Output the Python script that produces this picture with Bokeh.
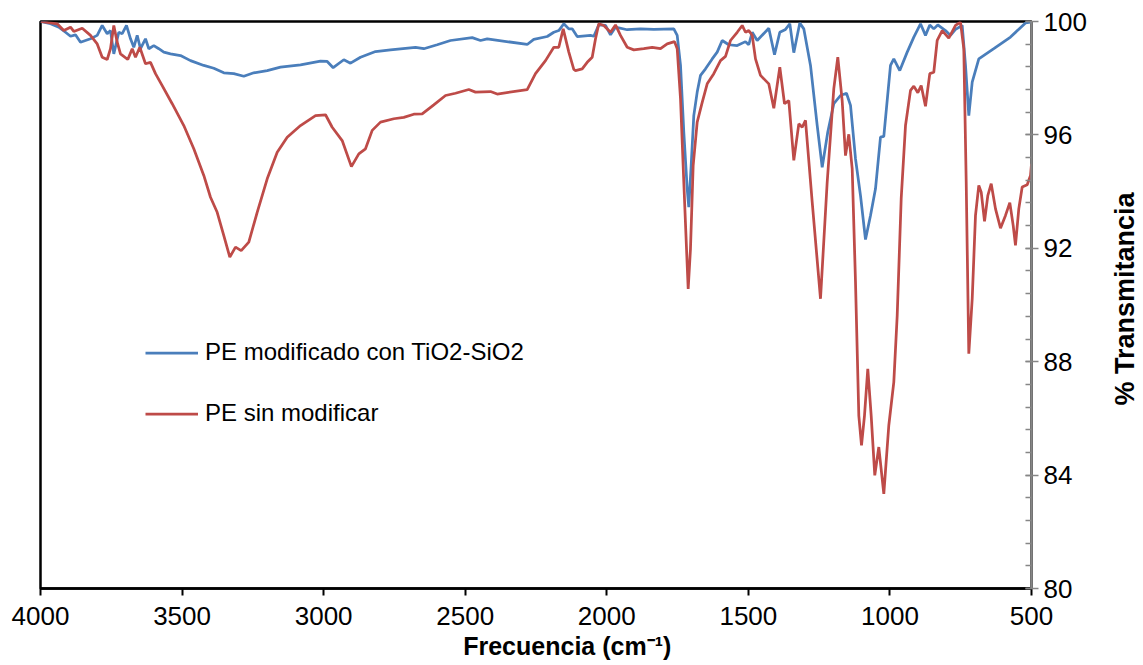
import math
from bokeh.plotting import figure
from bokeh.layouts import row
from bokeh.models import Range1d, LinearAxis, Legend, LegendItem, FixedTicker, Label
from bokeh.embed import file_html
from bokeh.resources import INLINE

# ---- data ----
wn_red = [4000, 3941, 3917.7, 3894, 3882.4, 3852.7, 3823.4, 3799.7, 3782.1, 3764.4, 3752.8, 3741.1,
          3729.1, 3717.5, 3691.7, 3676.1, 3664.5, 3649.3, 3629.2, 3611.5, 3593.9, 3570.2, 3534.9,
          3493.9, 3458.6, 3423.3, 3399.6, 3376.0, 3352.6, 3331.4, 3311.3, 3291.2, 3264.3, 3234.7,
          3199.3, 3164.0, 3128.7, 3081.7, 3028.7, 2993.4, 2969.8, 2934.5, 2902, 2875.8, 2852.2,
          2828.5, 2799.2, 2752.2, 2716.9, 2681.6, 2651.9, 2611.0, 2569.6, 2534.3, 2487.3, 2463.7,
          2410.7, 2387.0, 2281.1, 2251.8, 2216.4, 2187.1, 2169.5, 2153.9, 2134.1, 2116.5, 2110.5,
          2086.8, 2069.2, 2051.5, 2039.8, 2028.2, 2010.5, 1986.9, 1969.2, 1951.6, 1927.9, 1904.6,
          1869.3, 1839.6, 1810.3, 1786.7, 1760.8, 1751.3, 1739.6, 1728.0, 1718.4, 1712.5, 1704.4,
          1694.9, 1680.7, 1663.0, 1645.4, 1622.1, 1598.4, 1580.7, 1563.1, 1539.4, 1521.7, 1510.1,
          1498.5, 1486.4, 1474.8, 1457.1, 1427.8, 1410.1, 1388.9, 1372.3, 1357.1, 1339.5, 1321.8,
          1309.8, 1298.2, 1274.5, 1245.2, 1221.6, 1198.2, 1184.1, 1168.6, 1156.9, 1145.3, 1133.2,
          1121.6, 1109.9, 1100.4, 1089.8, 1078.2, 1066.2, 1053.5, 1039.3, 1021.6, 1004.0, 986.3,
          974.3, 960.2, 945.0, 927.3, 915.6, 901.5, 889.6, 874.4, 859.2, 845.1, 833.1, 815.4, 792.1,
          768.4, 750.8, 739.1, 730.6, 721.4, 709.4, 697.8, 686.1, 677.6, 665.9, 654.3, 642.3, 627.1,
          609.5, 591.8, 576.6, 564.6, 556.6, 544.9, 532.9, 515.2, 503.5, 500]
t_red = [100, 99.92, 99.68, 99.80, 99.65, 99.76, 99.51, 99.21, 98.74, 98.66, 99.04, 99.86,
         99.27, 98.86, 98.66, 99.04, 98.74, 99.09, 98.51, 98.56, 98.16, 97.74, 97.10,
         96.33, 95.51, 94.57, 93.80, 93.27, 92.45, 91.69, 92.04, 91.92, 92.22, 93.27,
         94.45, 95.39, 95.92, 96.33, 96.68, 96.71, 96.27, 95.80, 94.88, 95.33, 95.51,
         96.16, 96.45, 96.57, 96.62, 96.73, 96.74, 97.06, 97.39, 97.47, 97.60, 97.51,
         97.53, 97.44, 97.60, 98.16, 98.62, 99.09, 99.09, 99.74, 98.92, 98.31, 98.27,
         98.33, 98.56, 98.74, 99.39, 99.92, 99.86, 99.62, 99.88, 99.51, 99.09, 99.00,
         99.04, 99.09, 99.04, 99.21, 99.29, 99.04, 97.27, 94.33, 91.98, 90.57, 91.98,
         94.92, 96.45, 97.15, 97.80, 98.16, 98.62, 98.77, 99.33, 99.62, 99.86, 99.62,
         99.68, 99.51, 98.68, 98.10, 97.80, 96.94, 98.39, 97.10, 97.21, 95.10, 96.39,
         96.27, 96.51, 93.63, 90.22, 94.33, 97.63, 98.74, 97.20, 95.27, 96.02, 94.80,
         90.81, 86.10, 85.05, 86.10, 87.75, 86.10, 83.99, 84.99, 83.34, 85.75, 87.28,
         89.63, 93.75, 96.33, 97.57, 97.72, 97.49, 97.74, 97.01, 98.16, 98.21, 99.33, 99.68, 99.41,
         99.86, 99.98, 99.04, 94.33, 88.28, 90.22, 93.16, 94.22, 93.98, 92.95, 93.86, 94.28, 93.39,
         92.71, 93.16, 93.61, 92.80, 92.10, 93.39, 94.16, 94.24, 94.57, 94.98]

wn_blue = [4000, 3964.7, 3935.4, 3911.7, 3894.0, 3876.4, 3858.7, 3841.1, 3823.4, 3799.7, 3782.1,
           3764.4, 3752.8, 3741.1, 3723.5, 3711.4, 3696.3, 3682.1, 3670.5, 3658.5, 3646.8, 3629.2,
           3617.5, 3599.9, 3582.2, 3564.5, 3540.9, 3505.5, 3470.2, 3423.3, 3388.0, 3352.6, 3317.3,
           3282.0, 3246.7, 3199.3, 3152.4, 3081.7, 3011.1, 2987.4, 2966.3, 2928.8, 2905.1, 2869.8,
           2816.8, 2763.9, 2675.6, 2646.3, 2599.0, 2552.0, 2475.3, 2446.0, 2422.3, 2281.1, 2257.8,
           2210.4, 2187.1, 2169.5, 2151.8, 2134.1, 2122.2, 2104.5, 2057.5, 2045.8, 2028.2, 2004.5,
           1986.9, 1969.2, 1927.9, 1881.0, 1834.0, 1763.3, 1751.3, 1739.6, 1728.0, 1716.0, 1710.4,
           1702.0, 1692.7, 1680.7, 1669.0, 1651.3, 1627.7, 1610.1, 1592.4, 1569.1, 1539.4, 1510.1,
           1498.5, 1486.4, 1468.8, 1427.8, 1407.6, 1388.9, 1368.8, 1353.6, 1339.5, 1318.3, 1304.2,
           1280.5, 1256.8, 1239.2, 1219.5, 1198.2, 1174.6, 1153.4, 1139.2, 1121.6, 1103.9, 1086.3,
           1068.6, 1051.0, 1033.3, 1021.6, 998.0, 986.3, 965.2, 939.0, 915.6, 892.0, 874.4, 859.2,
           845.1, 831.0, 803.7, 786.1, 768.4, 744.8, 733.1, 721.4, 709.4, 686.1, 633.1, 574.1, 521.2,
           503.5, 500]
t_blue = [100, 99.92, 99.80, 99.62, 99.48, 99.53, 99.27, 99.33, 99.39, 99.51, 99.86,
          99.57, 99.68, 98.86, 99.62, 99.57, 99.86, 99.39, 99.09, 99.51, 99.04, 99.39,
          99.04, 99.15, 99.04, 98.92, 98.86, 98.80, 98.62, 98.45, 98.35, 98.19, 98.16,
          98.07, 98.19, 98.27, 98.39, 98.47, 98.60, 98.59, 98.37, 98.65, 98.53, 98.74,
          98.94, 99.00, 99.09, 99.04, 99.18, 99.33, 99.43, 99.33, 99.39, 99.19, 99.37,
          99.47, 99.62, 99.68, 99.92, 99.74, 99.74, 99.47, 99.51, 99.48, 99.88, 99.86,
          99.53, 99.80, 99.71, 99.74, 99.72, 99.74, 99.51, 98.45, 96.10, 94.10, 93.45,
          94.92, 96.68, 97.51, 98.10, 98.33, 98.68, 98.92, 99.33, 99.18, 99.15, 99.29,
          99.18, 99.62, 99.33, 99.76, 98.83, 99.62, 99.72, 99.92, 98.90, 99.95, 99.74,
          98.45, 96.33, 94.86, 96.10, 97.10, 97.39, 97.47, 97.04, 95.16, 93.86, 92.31,
          93.16, 94.10, 95.92, 95.95, 98.45, 98.68, 98.27, 98.92, 99.45, 99.92, 99.51, 99.88,
          99.74, 99.88, 99.68, 99.51, 99.72, 99.86, 98.45, 96.68, 97.86, 98.68, 99.04, 99.45, 99.95,
          99.98, 100]

x_ticks = [4000, 3500, 3000, 2500, 2000, 1500, 1000, 500]
y_ticks = [80, 84, 88, 92, 96, 100]
series_names = ["PE modificado con TiO2-SiO2", "PE sin modificar"]
x_title = "\u2003\u2003\u2002Frecuencia (cm\u207b\u00b9)"
y_title = "% Transmitancia"

BLUE = "#4A7EBB"
RED = "#BE4B48"
FONT = "Liberation Sans"

p = figure(frame_width=991, frame_height=567, output_backend="svg", toolbar_location=None,
           x_range=Range1d(4000, 500), y_range=Range1d(80, 100),
           x_axis_location="below", y_axis_location=None,
           min_border_left=40, min_border_top=21, min_border_right=62, min_border_bottom=5)
p.background_fill_color = "white"
p.border_fill_color = "white"
p.xgrid.visible = False
p.ygrid.visible = False
p.outline_line_color = "black"
p.outline_line_width = 2.5

# bottom axis
xa = p.xaxis[0]
xa.ticker = FixedTicker(ticks=x_ticks)
xa.axis_line_color = "black"
xa.axis_line_width = 2.5
xa.major_tick_line_color = "black"
xa.major_tick_line_width = 2
xa.major_tick_in = 0
xa.major_tick_out = 7
xa.minor_tick_line_color = None
xa.major_label_text_font = FONT
xa.major_label_text_font_size = "26px"
xa.major_label_text_color = "black"
xa.major_label_standoff = 11
xa.axis_label = x_title
xa.axis_label_text_font = FONT
xa.axis_label_text_font_style = "bold"
xa.axis_label_text_font_size = "25px"
xa.axis_label_text_color = "black"
xa.axis_label_standoff = 4

# right axis (ticks and numbers)
ya = LinearAxis(ticker=FixedTicker(ticks=y_ticks,
                                   minor_ticks=[80 + 0.8 * i for i in range(26)]))
ya.axis_line_color = "#868686"
ya.axis_line_width = 2.5
ya.major_tick_line_color = "#868686"
ya.major_tick_line_width = 1.5
ya.major_tick_in = 6
ya.major_tick_out = 7
ya.minor_tick_line_color = "#868686"
ya.minor_tick_line_width = 1.5
ya.minor_tick_in = 6
ya.minor_tick_out = 0
ya.major_label_text_font = FONT
ya.major_label_text_font_size = "26px"
ya.major_label_text_color = "black"
ya.major_label_standoff = 5
p.add_layout(ya, "right")

rb = p.line(wn_blue, t_blue, line_color=BLUE, line_width=2.75)
rr = p.line(wn_red, t_red, line_color=RED, line_width=2.75)

legend = Legend(items=[LegendItem(label=series_names[0], renderers=[rb]),
                       LegendItem(label=series_names[1], renderers=[rr])],
                location=(105, 161), orientation="vertical",
                border_line_color=None, background_fill_alpha=0,
                padding=0, margin=0, spacing=33,
                glyph_width=53, glyph_height=25, label_height=25,
                label_standoff=7,
                label_text_font=FONT, label_text_font_size="24px",
                label_text_color="black")
p.add_layout(legend, "center")

# narrow side figure holding the rotated y-axis title (reads bottom to top)
side = figure(width=48, height=650, output_backend="svg", toolbar_location=None,
              x_range=Range1d(0, 48), y_range=Range1d(0, 650),
              x_axis_location=None, y_axis_location=None,
              min_border_left=0, min_border_right=0, min_border_top=0, min_border_bottom=0)
side.grid.visible = False
side.outline_line_color = None
side.background_fill_color = "white"
side.border_fill_color = "white"
side.add_layout(Label(x=31, y=325, text=y_title, angle=math.pi / 2,
                      text_align="center", text_baseline="middle",
                      text_font=FONT, text_font_style="bold", text_font_size="27px",
                      text_color="black"))

layout = row(p, side, spacing=0)
open("out.html", "w").write(file_html(layout, INLINE))
